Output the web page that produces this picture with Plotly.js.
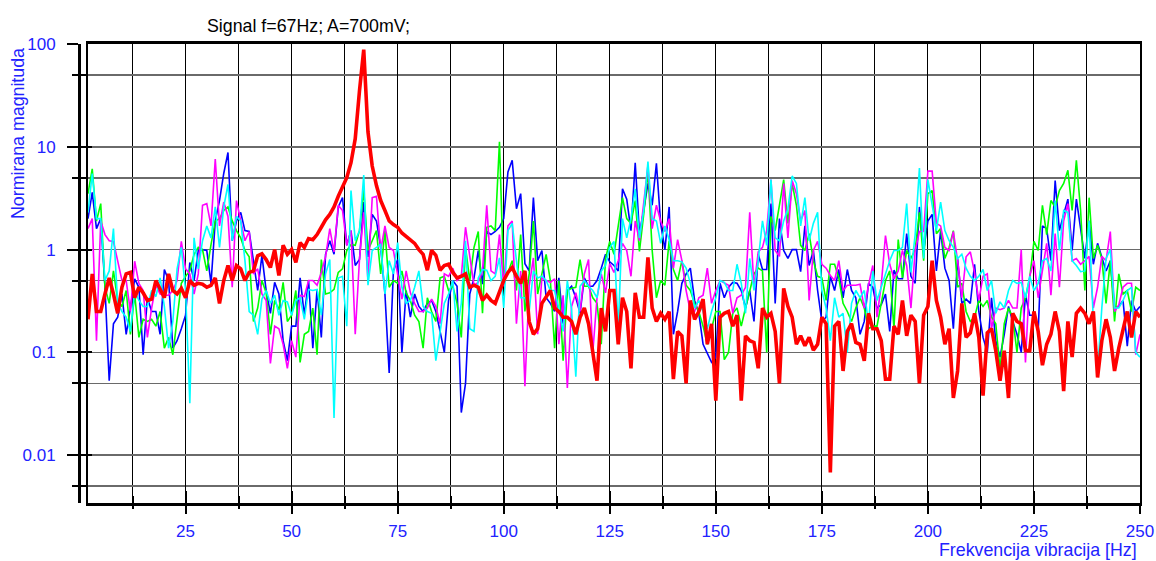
<!DOCTYPE html>
<html>
<head>
<meta charset="utf-8">
<script src="https://cdn.plot.ly/plotly-3.0.1.min.js"></script>
<style>html,body{margin:0;padding:0;background:#fff;}#chart{width:1156px;height:561px;}</style>
</head>
<body>
<div id="chart"></div>
<script>
// Frequency bins (Hz): first bin and step
const freqStart = 2;
const freqStep = 1;

const redSeries = [
0.21,0.58,0.25,0.25,0.37,0.53,0.37,0.24,0.43,0.58,
0.6,0.34,0.43,0.38,0.32,0.33,0.5,0.42,0.34,0.58,
0.4,0.37,0.42,0.34,0.5,0.45,0.47,0.46,0.43,0.45,
0.53,0.3,0.5,0.7,0.5,0.7,0.65,0.5,0.6,0.62,
0.87,0.91,0.8,0.67,1.0,0.56,1.1,0.9,1.0,0.75,
1.17,1.05,1.28,1.25,1.4,1.65,1.95,2.2,2.6,3.3,
4.0,5.0,7.0,12,35,88,14,6.5,4.2,3.0,
2.4,1.9,1.75,1.65,1.45,1.35,1.25,1.15,1.0,0.9,
0.63,0.98,0.88,0.63,0.7,0.72,0.6,0.53,0.55,0.58,
0.43,0.45,0.43,0.32,0.36,0.32,0.3,0.4,0.5,0.6,
0.67,0.55,0.47,0.62,0.2,0.15,0.17,0.3,0.35,0.4,
0.27,0.25,0.22,0.22,0.2,0.15,0.22,0.27,0.19,0.1,
0.053,0.27,0.16,0.4,0.4,0.12,0.34,0.25,0.07,0.38,
0.22,0.22,0.84,0.27,0.2,0.24,0.21,0.25,0.055,0.16,
0.145,0.05,0.32,0.21,0.25,0.33,0.12,0.19,0.034,0.22,
0.24,0.25,0.18,0.23,0.034,0.145,0.13,0.125,0.07,0.27,
0.22,0.24,0.16,0.05,0.42,0.28,0.22,0.12,0.145,0.116,
0.14,0.105,0.12,0.22,0.19,0.0068,0.18,0.2,0.066,0.16,
0.19,0.125,0.12,0.083,0.24,0.17,0.17,0.13,0.055,0.055,
0.18,0.15,0.32,0.145,0.23,0.2,0.05,0.23,0.28,0.78,
0.32,0.22,0.12,0.17,0.036,0.066,0.3,0.14,0.155,0.24,
0.14,0.038,0.155,0.17,0.104,0.053,0.104,0.036,0.24,0.2,
0.19,0.104,0.104,0.25,0.16,0.075,0.12,0.15,0.25,0.16,
0.042,0.2,0.09,0.24,0.27,0.24,0.19,0.25,0.057,0.13,
0.21,0.14,0.066,0.11,0.16,0.25,0.14,0.25,0.22];

const blueSeries = [
2.0,3.6,1.6,2.0,0.43,0.053,0.19,0.22,0.37,0.15,
0.27,0.52,0.43,0.095,0.34,0.25,0.25,0.15,0.64,0.5,
0.11,0.13,0.17,0.23,0.75,0.5,0.98,1.0,0.98,0.47,
1.9,3.0,5.5,8.8,1.22,1.9,2.3,1.53,1.5,0.78,
0.4,0.88,0.4,0.24,0.48,0.37,0.13,0.083,0.18,0.18,
0.53,0.23,0.5,0.11,0.41,0.14,0.9,1.22,0.9,2.6,
3.2,1.1,1.53,0.7,0.8,2.9,0.85,2.2,1.9,1.05,
0.37,0.063,0.62,0.8,0.1,0.4,0.22,0.37,0.28,0.25,
0.3,0.32,0.25,0.16,0.1,0.32,0.5,0.44,0.026,0.05,
0.37,0.53,0.98,0.46,1.5,1.4,1.5,1.65,2.0,5.7,
7.4,2.5,3.5,0.73,0.62,3.2,0.78,0.98,0.34,0.3,
0.25,0.53,0.19,0.4,0.44,0.34,0.24,0.53,0.44,0.44,
0.5,0.66,0.9,0.76,0.7,0.62,3.9,3.1,1.53,7.0,
1.43,2.4,4.4,2.7,6.9,1.8,1.0,2.6,0.15,0.25,
0.47,0.58,0.66,0.32,0.24,0.12,0.097,0.08,0.09,0.47,
0.34,0.43,0.48,0.47,0.4,0.27,0.4,0.2,0.9,0.64,
0.64,2.8,0.3,2.0,0.98,0.82,1.0,1.0,0.61,1.7,
0.7,0.98,0.4,0.2,0.22,0.55,0.4,0.64,0.34,0.64,
0.4,0.34,0.15,0.2,0.47,0.43,0.27,0.29,0.37,0.16,
0.63,0.52,0.52,1.43,0.55,0.47,2.6,0.98,1.9,2.2,
0.62,1.53,0.66,0.5,0.17,0.82,0.3,0.33,0.3,0.72,
0.25,0.14,0.1,0.34,0.13,0.09,0.15,0.28,0.2,0.15,
0.1,0.36,0.23,0.23,0.16,1.7,1.6,0.78,4.7,1.53,
2.2,3.1,0.98,3.1,1.6,0.82,1.9,0.72,1.15,0.82,
0.62,0.78,0.27,0.28,0.32,0.115,0.32,0.25,0.28];

const greenSeries = [
3.5,6.1,1.9,2.8,0.43,0.3,0.62,0.32,0.28,0.4,
0.15,0.37,0.14,0.21,0.2,0.21,0.18,0.25,0.11,0.14,
0.095,0.2,0.47,0.55,0.62,0.9,1.05,1.0,0.62,1.12,
1.9,2.0,2.4,2.6,1.9,1.53,1.3,0.98,0.85,0.2,
0.27,0.5,0.38,0.15,0.32,0.26,0.48,0.2,0.23,0.4,
0.08,0.15,0.16,0.27,0.095,0.8,0.37,0.38,0.41,0.6,
0.65,0.98,1.12,1.1,1.53,3.8,0.98,1.22,1.53,0.58,
1.53,0.43,0.5,0.47,0.62,0.38,0.32,0.23,0.2,0.11,
0.34,0.25,0.2,0.53,0.55,0.4,0.44,0.3,0.14,1.05,
0.5,1.05,1.5,0.24,1.65,1.7,1.53,11.2,0.5,0.6,
0.78,0.4,1.4,0.25,0.58,1.9,0.37,0.58,0.9,0.5,
0.11,0.5,0.083,0.4,0.42,0.43,0.8,0.44,0.44,0.34,
0.3,0.12,0.82,1.2,0.9,1.7,3.2,2.0,1.8,3.0,
0.96,2.2,5.9,0.98,0.34,0.5,0.45,1.22,0.64,0.5,
0.78,0.45,0.4,0.3,0.25,0.18,0.12,0.17,0.25,0.25,
0.085,0.1,0.24,0.27,0.18,0.27,0.4,0.58,0.66,0.62,
0.1,2.1,1.53,2.7,4.8,1.8,4.4,2.7,1.1,0.98,
1.43,0.78,0.55,0.53,0.32,0.72,0.72,0.53,0.3,0.25,
0.2,0.27,0.34,0.27,0.17,0.18,0.18,0.3,0.5,0.62,
0.17,1.25,0.53,0.98,0.82,1.0,2.3,0.78,3.5,3.75,
1.43,1.6,0.82,1.05,1.53,0.43,0.47,0.25,0.2,0.22,
0.32,0.28,0.32,0.22,0.19,0.068,0.19,0.27,0.22,0.1,
0.27,0.34,0.53,1.2,0.98,2.7,1.4,3.0,2.6,3.75,
4.4,5.9,2.4,7.4,2.4,0.4,3.2,0.82,1.1,0.82,
0.3,0.78,0.2,0.58,0.37,0.4,0.25,0.43,0.4];

const magentaSeries = [
1.6,2.0,0.13,1.9,1.4,1.22,1.2,0.78,0.5,0.5,
0.25,0.77,0.47,0.4,0.14,0.27,0.45,0.37,0.36,0.36,
0.4,0.5,1.2,0.65,0.58,0.37,0.58,2.7,2.8,1.7,
7.6,1.7,2.9,2.1,0.43,3.0,1.9,1.22,1.5,0.58,
0.65,0.37,0.32,0.078,0.18,0.17,0.12,0.07,0.13,0.09,
0.36,0.35,0.5,0.5,0.45,0.6,0.85,1.6,0.95,2.7,
2.4,1.1,1.53,0.15,0.8,2.3,0.5,3.2,3.3,0.98,
1.7,1.05,0.98,0.58,0.33,0.62,0.38,0.3,0.25,0.25,
0.27,0.33,0.28,0.19,0.58,0.55,0.66,0.5,0.55,1.65,
0.86,0.45,0.48,0.62,2.7,0.62,0.58,1.4,0.44,1.7,
1.9,0.19,0.62,0.047,0.44,0.83,0.15,0.53,0.5,0.48,
0.52,0.12,0.36,0.045,0.28,0.38,0.25,0.58,0.8,0.1,
0.34,0.58,0.38,0.73,0.6,0.78,1.15,0.98,0.55,1.9,
1.22,2.7,6.6,1.6,2.7,1.9,1.5,2.0,0.66,1.25,
0.78,0.4,0.25,0.25,0.34,0.36,0.66,0.3,0.4,0.5,
0.47,0.45,0.24,0.34,0.36,0.43,2.3,0.43,0.95,1.05,
1.53,4.8,0.98,0.86,4.4,1.3,4.7,3.5,1.9,2.4,
0.32,0.98,1.2,0.72,0.66,0.56,0.5,0.78,0.4,0.45,
0.45,0.45,0.46,0.27,0.45,0.7,0.22,0.45,1.37,0.72,
0.52,0.62,0.98,0.7,0.27,0.98,1.5,1.5,5.8,5.8,
1.8,1.7,1.05,0.98,1.5,0.78,0.34,0.85,0.95,0.6,
0.32,0.55,0.58,0.17,0.27,0.26,0.27,0.32,0.27,0.27,
1.0,0.08,0.55,0.78,0.34,0.66,1.15,0.36,1.43,0.43,
1.9,2.8,0.78,0.82,0.72,0.78,0.86,0.27,0.43,0.86,
0.78,1.5,0.25,0.29,0.43,0.47,0.47,0.095,0.15];

const cyanSeries = [
2.3,5.5,2.0,2.0,0.5,0.62,1.6,0.3,0.25,0.22,
0.16,0.4,0.32,0.28,0.28,0.4,0.35,0.53,0.28,0.11,
0.2,0.65,1.05,0.4,0.032,1.3,0.65,1.22,1.7,1.3,
2.6,1.05,2.6,4.3,1.22,2.1,1.9,0.78,0.25,0.23,
0.15,0.33,0.4,0.3,0.36,0.23,0.32,0.31,0.23,0.32,
0.34,0.21,0.41,0.4,0.41,0.23,0.58,0.8,0.023,0.53,
0.55,0.18,3.75,1.22,1.53,5.3,0.45,0.98,1.05,1.12,
0.37,0.78,0.58,1.17,0.43,0.3,0.32,0.43,0.62,0.28,
0.25,0.24,0.083,0.16,0.3,0.37,0.5,0.16,0.3,1.22,
0.17,0.16,0.53,0.64,0.63,0.5,0.55,0.83,0.27,1.53,
1.8,0.78,0.34,0.34,0.25,0.62,0.53,0.55,0.5,0.4,
0.4,0.27,0.16,0.5,0.26,0.058,0.44,0.5,0.44,0.4,
0.34,0.62,0.7,1.05,1.2,0.17,2.0,1.3,2.0,3.9,
1.3,2.4,7.2,2.0,1.9,1.15,1.7,1.25,0.78,0.78,
0.76,0.66,0.47,0.27,0.32,0.25,0.17,0.25,0.34,0.5,
0.48,0.4,0.4,0.72,0.47,0.24,0.82,0.4,0.78,1.9,
1.1,4.8,1.3,1.22,1.9,2.5,5.2,4.4,1.7,3.2,
1.22,1.8,2.3,0.4,0.27,0.13,0.34,0.22,0.24,0.1,
0.3,0.4,0.34,0.4,0.19,0.62,0.32,0.43,0.58,0.78,
0.98,0.98,1.05,2.8,0.6,1.4,6.2,0.82,4.8,2.6,
1.53,2.9,1.53,1.22,1.05,0.82,0.9,0.66,0.55,0.5,
0.55,0.64,0.4,0.5,0.24,0.31,0.27,0.4,0.5,0.47,
0.48,0.34,0.55,0.4,0.47,0.78,0.82,0.62,3.0,0.98,
2.4,2.3,0.78,0.7,0.61,0.62,1.9,0.2,0.066,0.27,
0.82,1.0,0.27,0.27,0.32,0.4,0.43,0.1,0.09];

const xMajorTicks = [25,50,75,100,125,150,175,200,225,250];
const xMinorTicks = [12.5,37.5,62.5,87.5,112.5,137.5,162.5,187.5,212.5,237.5];
const yMajorTicks = [0.01,0.1,1,10,100];
const yMajorLabels = ["0.01","0.1","1","10","100"];
const yMinorTicks = [0.005,0.05,0.5,5,50];

const chartTitle = "Signal f=67Hz; A=700mV;";
const yTitle = "Normirana magnituda";
const xTitle = "Frekvencija vibracija [Hz]";

const freq = redSeries.map((_, i) => freqStart + i * freqStep);

const FONT = "Liberation Sans, Arial, sans-serif";
const LABEL_BLUE = "#2222ff";

function lineTrace(y, color, width) {
  return {x: freq, y: y, type: "scatter", mode: "lines",
          line: {color: color, width: width}, showlegend: false, hoverinfo: "skip",
          xaxis: "x", yaxis: "y"};
}

const traces = [
  lineTrace(blueSeries, "#0000ff", 1.6),
  lineTrace(greenSeries, "#00ff00", 1.6),
  lineTrace(magentaSeries, "#ff00ff", 1.6),
  lineTrace(cyanSeries, "#00ffff", 1.6),
  lineTrace(redSeries, "#ff0000", 3.6),
  {x: [], y: [], type: "scatter", xaxis: "x2", yaxis: "y", showlegend: false, hoverinfo: "skip"},
  {x: [], y: [], type: "scatter", xaxis: "x", yaxis: "y2", showlegend: false, hoverinfo: "skip"},
  {x: [], y: [], type: "scatter", xaxis: "x", yaxis: "y3", showlegend: false, hoverinfo: "skip"}
];

const yRange = [-2.465, 2.0];
const xRange = [2, 250];
const xDomain = [9 / 1061, 1];

const layout = {
  width: 1156, height: 561,
  margin: {l: 79, r: 16, t: 44, b: 58, pad: 0},
  paper_bgcolor: "#ffffff", plot_bgcolor: "#ffffff",
  hovermode: false,
  font: {family: FONT, size: 17, color: LABEL_BLUE},
  title: {text: chartTitle, font: {family: FONT, size: 17.8, color: "#000000"},
          xref: "container", yref: "container", x: 207 / 1156, xanchor: "left",
          y: 1 - 26 / 561, yanchor: "middle"},
  xaxis: {
    domain: xDomain, range: xRange, type: "linear",
    tickmode: "array", tickvals: xMajorTicks,
    ticks: "inside", ticklen: 12, tickwidth: 2, tickcolor: "#000",
    tickfont: {family: FONT, size: 17, color: LABEL_BLUE},
    ticklabelstandoff: 11,
    showline: true, linewidth: 3, linecolor: "#000", mirror: true,
    showgrid: true, gridcolor: "#000", gridwidth: 1, zeroline: false,
    minor: {tickmode: "array", tickvals: xMinorTicks, ticks: "inside", ticklen: 7,
            tickwidth: 2, tickcolor: "#000", showgrid: true, gridcolor: "#000", gridwidth: 1}
  },
  xaxis2: {
    overlaying: "x", anchor: "y", side: "bottom", range: xRange, type: "linear",
    tickmode: "array", tickvals: xMajorTicks, ticks: "outside", ticklen: 10, tickwidth: 2,
    tickcolor: "#000", showticklabels: false, showgrid: false, showline: false, zeroline: false,
    minor: {tickmode: "array", tickvals: xMinorTicks, ticks: "outside", ticklen: 5,
            tickwidth: 2, tickcolor: "#000", showgrid: false}
  },
  yaxis: {
    type: "log", range: yRange, anchor: "free", position: 0,
    tickmode: "array", tickvals: yMajorTicks, ticktext: yMajorLabels,
    ticks: "outside", ticklen: 11, tickwidth: 2, tickcolor: "#000",
    tickfont: {family: FONT, size: 17, color: LABEL_BLUE},
    ticklabelstandoff: 8,
    showline: true, linewidth: 3, linecolor: "#000",
    showgrid: true, gridcolor: "#6a6a6a", gridwidth: 1.5, zeroline: false,
    minor: {tickmode: "array", tickvals: yMinorTicks, ticks: "outside", ticklen: 6,
            tickwidth: 2, tickcolor: "#000", showgrid: true, gridcolor: "#6a6a6a", gridwidth: 1.5}
  },
  yaxis2: {
    type: "log", range: yRange, overlaying: "y", anchor: "free", position: 0, side: "left",
    tickmode: "array", tickvals: yMajorTicks, ticks: "inside", ticklen: 12, tickwidth: 2,
    tickcolor: "#000", showticklabels: false, showgrid: false, showline: false, zeroline: false,
    minor: {tickmode: "array", tickvals: yMinorTicks, ticks: "inside", ticklen: 7,
            tickwidth: 2, tickcolor: "#000", showgrid: false}
  },
  yaxis3: {
    type: "log", range: yRange, overlaying: "y", anchor: "x", side: "left",
    showline: true, linewidth: 2, linecolor: "#000", mirror: true,
    ticks: "", showticklabels: false, showgrid: false, zeroline: false
  },
  annotations: [
    {text: yTitle, xref: "paper", yref: "paper", x: (18 - 79) / 1061, y: 1 - (134 - 44) / 459,
     xanchor: "center", yanchor: "middle", textangle: -90, showarrow: false,
     font: {family: FONT, size: 17.8, color: LABEL_BLUE}},
    {text: xTitle, xref: "paper", yref: "paper", x: (1139 - 79) / 1061, y: -(550 - 503) / 459,
     xanchor: "right", yanchor: "middle", showarrow: false,
     font: {family: FONT, size: 17.8, color: LABEL_BLUE}}
  ]
};

Plotly.newPlot("chart", traces, layout, {displayModeBar: false, staticPlot: true});
</script>
</body>
</html>
